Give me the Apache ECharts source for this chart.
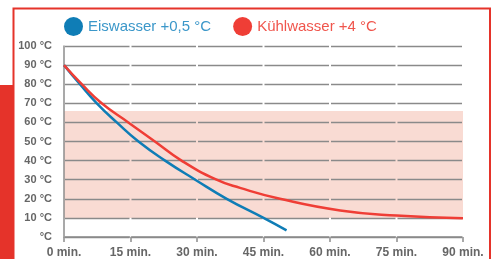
<!DOCTYPE html>
<html>
<head>
<meta charset="utf-8">
<script src="https://cdn.jsdelivr.net/npm/echarts@6/dist/echarts.min.js"></script>
<style>
  html, body { margin: 0; padding: 0; background: #fff; }
  #chart { width: 492px; height: 259px; }
</style>
</head>
<body>
<div id="chart"></div>
<script>
// Abkühlkurven (Minuten / °C)
const eisMinutes = [0, 3.6, 7.4, 11.9, 16.8, 22.8, 29.6, 36.7, 45, 50.2];
const eisTemps = [90, 80, 70, 60, 50, 40, 30, 20, 10, 3.5];
const kuehlMinutes = [0, 4, 8.5, 14.5, 20.5, 26.5, 34.4, 39.7, 48.7, 62.3, 75, 90];
const kuehlTemps = [90, 80, 70, 60, 50, 40, 30, 25.7, 20, 13.9, 11.2, 9.8];
const seriesNames = ["Eiswasser +0,5 °C", "Kühlwasser +4 °C"];
const bandRange = [10, 66]; // rosa Bereich

const blue = "#0f7db6";
const red = "#ef3e36";
const frameRed = "#e5332a";

const toPoints = (xs, ys) => xs.map((x, i) => [x, ys[i]]);

const chart = echarts.init(document.getElementById("chart"));
const option = {
  animation: false,
  grid: { left: 64, right: 29, top: 46, bottom: 22 },
  legend: {
    left: 59,
    top: 12,
    icon: "circle",
    itemWidth: 19,
    itemHeight: 19,
    itemGap: 22,
    selectedMode: false,
    data: [
      { name: seriesNames[0], textStyle: { color: "#3b97c9" } },
      { name: seriesNames[1], textStyle: { color: "#f0554c" } },
    ],
    textStyle: { fontSize: 15, fontFamily: "Liberation Sans" },
  },
  xAxis: {
    type: "value",
    min: 0,
    max: 90,
    interval: 15,
    axisLine: {
      lineStyle: { color: "#8c8c8c", width: 1.5, type: [64.5, 2], dashOffset: -1 },
    },
    axisTick: { show: true, length: 5, lineStyle: { color: "#8c8c8c", width: 1.5 } },
    axisLabel: {
      margin: 10,
      color: "#666",
      fontSize: 12,
      fontWeight: "bold",
      fontFamily: "Liberation Sans",
      formatter: (v) => v + " min.",
    },
    splitLine: { show: false },
  },
  yAxis: {
    type: "value",
    min: 0,
    max: 100,
    interval: 10,
    z: 3,
    axisLine: { show: true, lineStyle: { color: "#8c8c8c", width: 1.5 } },
    axisTick: { show: false },
    axisLabel: {
      margin: 12,
      color: "#666",
      fontSize: 11,
      fontWeight: "bold",
      fontFamily: "Liberation Sans",
      formatter: (v) => (v === 0 ? "°C" : v + " °C"),
    },
    splitLine: {
      show: true,
      lineStyle: { color: "#8a8a8a", width: 1.3, type: [64.5, 2], dashOffset: -1 },
    },
  },
  series: [
    {
      // rosa Hintergrundband
      name: "band",
      type: "line",
      z: 2,
      silent: true,
      symbol: "none",
      data: [[0, bandRange[1]], [90, bandRange[1]]],
      lineStyle: { width: 0, opacity: 0 },
      areaStyle: { color: "#f9dbd3", opacity: 1, origin: bandRange[0] },
    },
    {
      name: seriesNames[0],
      type: "line",
      z: 5,
      smooth: 0.5,
      symbol: "none",
      color: blue,
      lineStyle: { color: blue, width: 2.5 },
      data: toPoints(eisMinutes, eisTemps),
    },
    {
      name: seriesNames[1],
      type: "line",
      z: 6,
      smooth: 0.5,
      symbol: "none",
      color: red,
      lineStyle: { color: red, width: 2.5 },
      data: toPoints(kuehlMinutes, kuehlTemps),
    },
  ],
  graphic: [
    {
      // roter Rahmen
      type: "polyline",
      silent: true,
      shape: { points: [[13.5, 262], [13.5, 8.5], [490, 8.5], [490, 262]] },
      style: { stroke: frameRed, lineWidth: 2, fill: null },
    },
    {
      type: "rect",
      silent: true,
      shape: { x: 0, y: 85, width: 13, height: 180 },
      style: { fill: frameRed },
    },
  ],
};
chart.setOption(option);
</script>
</body>
</html>
